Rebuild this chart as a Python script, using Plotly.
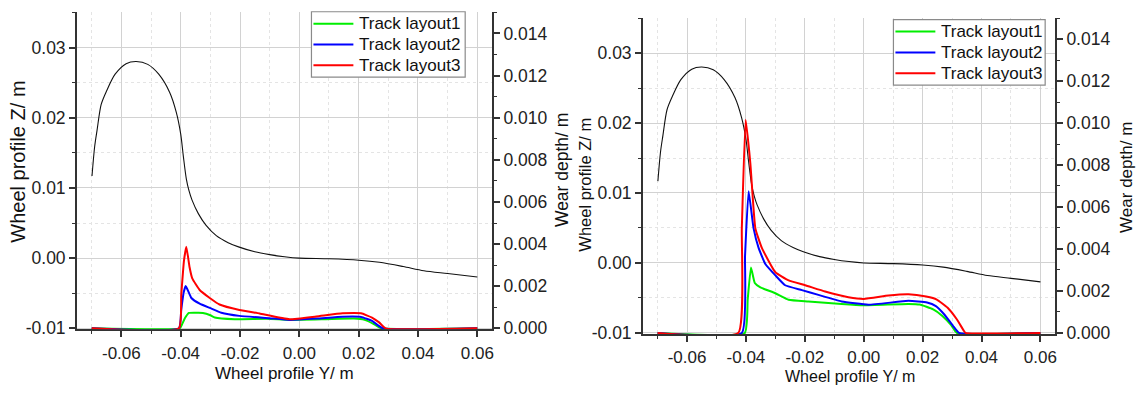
import plotly.graph_objects as go

# ---- wheel profile (same in both panels) ----
profile_y = [-0.0699, -0.0690, -0.0682, -0.0668, -0.0650, -0.0621, -0.0584, -0.0550,
             -0.0511, -0.0474, -0.0437, -0.0415, -0.0400, -0.0391, -0.0381, -0.0372,
             -0.0362, -0.0340, -0.0315, -0.0280, -0.0240, -0.0205, -0.0150, -0.0100,
             -0.0050, 0.0000, 0.0100, 0.0200, 0.0270, 0.0350, 0.0420, 0.0500, 0.0600]
profile_z = [0.0117, 0.0159, 0.0182, 0.0219, 0.0238, 0.0262, 0.0277, 0.0280,
             0.0276, 0.0262, 0.0236, 0.0208, 0.0177, 0.0145, 0.0113, 0.0096,
             0.0083, 0.0063, 0.0047, 0.0032, 0.0022, 0.0016, 0.0009, 0.0005,
             0.0002, 0.0000, -0.0001, -0.0003, -0.0006, -0.0012, -0.0018, -0.0022, -0.0027]

# ---- wear depth, left panel ----
left_l1_y = [-0.0700, -0.0403, -0.0395, -0.0385, -0.0372, -0.0340, -0.0325, -0.0300,
             -0.0285, -0.0218, -0.0108, -0.0033, 0.0087, 0.0184, 0.0220, 0.0251, 0.0275, 0.0600]
left_l1_w = [0.0, 0.0, 0.0002, 0.0005, 0.00073, 0.00074, 0.00073, 0.00062,
             0.00051, 0.00043, 0.00045, 0.00040, 0.00043, 0.00046, 0.00040, 0.00020, 0.0, 0.0]

left_l2_y = [-0.0700, -0.0406, -0.0398, -0.0390, -0.0383, -0.0364, -0.0336, -0.0302,
             -0.0263, -0.0202, -0.0101, -0.0033, 0.0057, 0.0146, 0.0208, 0.0245, 0.0281, 0.0600]
left_l2_w = [0.0, 0.0, 0.0009, 0.0017, 0.00201, 0.00144, 0.00117, 0.00097,
             0.00074, 0.00059, 0.00048, 0.00040, 0.00046, 0.00055, 0.00054, 0.00035, 0.0, 0.0]

left_l3_y = [-0.0700, -0.0406, -0.0398, -0.0389, -0.0381, -0.0370, -0.0361, -0.0336,
             -0.0302, -0.0269, -0.0202, -0.0134, -0.0033, 0.0057, 0.0146, 0.0208,
             0.0245, 0.0269, 0.0291, 0.0600]
left_l3_w = [0.0, 0.0, 0.0016, 0.0032, 0.00387, 0.0029, 0.00237, 0.00182,
             0.00144, 0.00113, 0.00087, 0.00070, 0.00043, 0.00056, 0.00071, 0.00071,
             0.00051, 0.00028, 0.0, 0.0]

# ---- wear depth, right panel ----
right_l1_y = [-0.0700, -0.0404, -0.0394, -0.0383, -0.0370, -0.0351, -0.0300, -0.0255,
              -0.0188, -0.0075, 0.0000, 0.0152, 0.0190, 0.0236, 0.0267, 0.0297, 0.0316, 0.0600]
right_l1_w = [0.0, 0.0, 0.0016, 0.00312, 0.00238, 0.00217, 0.00189, 0.00158,
              0.00150, 0.00138, 0.00132, 0.00138, 0.00135, 0.00112, 0.00081, 0.00037, 0.0, 0.0]

right_l2_y = [-0.0700, -0.0414, -0.0403, -0.0391, -0.0374, -0.0357, -0.0334, -0.0300,
              -0.0267, -0.0210, -0.0154, -0.0075, 0.0016, 0.0152, 0.0215, 0.0245,
              0.0273, 0.0303, 0.0324, 0.0600]
right_l2_w = [0.0, 0.0, 0.0037, 0.00675, 0.00498, 0.00405, 0.00328, 0.00274,
              0.00227, 0.00204, 0.00181, 0.00150, 0.00134, 0.00153, 0.00145, 0.00128,
              0.00089, 0.00034, 0.0, 0.0]

right_l3_y = [-0.0700, -0.0426, -0.0414, -0.0401, -0.0385, -0.0368, -0.0346, -0.0300,
              -0.0255, -0.0199, -0.0131, -0.0052, 0.0000, 0.0084, 0.0152, 0.0212,
              0.0248, 0.0285, 0.0316, 0.0340, 0.0346, 0.0600]
right_l3_w = [0.0, 0.0, 0.0050, 0.01015, 0.00807, 0.00498, 0.00405, 0.00289,
              0.00250, 0.00227, 0.00197, 0.00170, 0.00162, 0.00178, 0.00184, 0.00173,
              0.00159, 0.00120, 0.00065, 0.00010, 0.0, 0.0]

series_names = ["Track layout1", "Track layout2", "Track layout3"]
series_colors = ["#00ee00", "#0000ff", "#ff0000"]

# ---- tick labels ----
x_tick_vals = [-0.06, -0.04, -0.02, 0.0, 0.02, 0.04, 0.06]
x_tick_text = ["-0.06", "-0.04", "-0.02", "0.00", "0.02", "0.04", "0.06"]
z_tick_vals = [-0.01, 0.0, 0.01, 0.02, 0.03]
z_tick_text = ["-0.01", "0.00", "0.01", "0.02", "0.03"]
w_tick_vals = [0.0, 0.002, 0.004, 0.006, 0.008, 0.010, 0.012, 0.014]
w_tick_text = ["0.000", "0.002", "0.004", "0.006", "0.008", "0.010", "0.012", "0.014"]

FONT = "Liberation Sans, Arial, sans-serif"
W, H = 1140, 397
AX = "#333333"

# a hair of headroom under zero so the zero-wear lines sit fully on the axis
W_RANGE = [-0.00005, 0.015]
Z_RANGE = [-0.01015, 0.035]

fig = go.Figure()

panels = [
    dict(x="x", y="y", yw="y2",
         data=[(left_l1_y, left_l1_w), (left_l2_y, left_l2_w), (left_l3_y, left_l3_w)]),
    dict(x="x2", y="y3", yw="y4",
         data=[(right_l1_y, right_l1_w), (right_l2_y, right_l2_w), (right_l3_y, right_l3_w)]),
]

for p in panels:
    fig.add_trace(go.Scatter(x=profile_y, y=profile_z, mode="lines",
                             line=dict(color="#111111", width=1.1, shape="spline", smoothing=0.8),
                             xaxis=p["x"], yaxis=p["y"], showlegend=False, hoverinfo="skip"))
    for (yy, ww), name, col in zip(p["data"], series_names, series_colors):
        fig.add_trace(go.Scatter(x=yy, y=ww, mode="lines", name=name, showlegend=False,
                                 line=dict(color=col, width=2, shape="spline", smoothing=0.4),
                                 xaxis=p["x"], yaxis=p["yw"]))


def xaxis_style(domain, anchor):
    return dict(domain=domain, anchor=anchor, range=[-0.075, 0.065], layer="below traces",
                tickmode="array", tickvals=x_tick_vals, ticktext=x_tick_text,
                ticks="outside", ticklen=6, tickwidth=1.5, tickcolor=AX, ticklabelstandoff=1,
                showline=True, linecolor=AX, linewidth=1.5, mirror=False,
                showgrid=True, gridcolor="#d2d2d2", gridwidth=1, zeroline=False,
                tickfont=dict(family=FONT, size=17, color="#222222"),
                minor=dict(tickmode="linear", tick0=0, dtick=0.01, ticks="outside", ticklen=3,
                           tickwidth=1.2, tickcolor=AX, showgrid=True,
                           gridcolor="#e4e4e4", griddash="dot", gridwidth=1))


def zaxis_style(domain, anchor):
    return dict(domain=domain, anchor=anchor, range=Z_RANGE, layer="below traces",
                tickmode="array", tickvals=z_tick_vals, ticktext=z_tick_text,
                ticks="outside", ticklen=6, tickwidth=1.5, tickcolor=AX,
                showline=True, linecolor=AX, linewidth=1.5,
                showgrid=True, gridcolor="#d2d2d2", gridwidth=1, zeroline=False,
                tickfont=dict(family=FONT, size=17.5, color="#222222"),
                minor=dict(tickmode="linear", tick0=0, dtick=0.005, ticks="outside", ticklen=3,
                           tickwidth=1.2, tickcolor=AX, showgrid=True,
                           gridcolor="#e4e4e4", griddash="dot", gridwidth=1))


def waxis_style(overlay, anchor):
    return dict(overlaying=overlay, anchor=anchor, side="right", range=W_RANGE,
                layer="below traces",
                tickmode="array", tickvals=w_tick_vals, ticktext=w_tick_text,
                ticks="outside", ticklen=6, tickwidth=1.5, tickcolor=AX,
                showline=True, linecolor=AX, linewidth=1.5,
                showgrid=False, zeroline=False,
                tickfont=dict(family=FONT, size=17.5, color="#222222"),
                minor=dict(tickmode="linear", tick0=0, dtick=0.001, ticks="outside", ticklen=3,
                           tickwidth=1.2, tickcolor=AX, showgrid=False))


fig.update_layout(
    width=W, height=H, autosize=False,
    margin=dict(l=0, r=0, t=0, b=0),
    paper_bgcolor="white", plot_bgcolor="white",
    font=dict(family=FONT, color="#222222"),
    xaxis=xaxis_style([77 / W, 493 / W], "y"),
    yaxis=zaxis_style([(H - 337) / H, (H - 12.7) / H], "x"),
    yaxis2=waxis_style("y", "x"),
    xaxis2=xaxis_style([644 / W, 1057 / W], "y3"),
    yaxis3=zaxis_style([(H - 341.7) / H, (H - 18.5) / H], "x2"),
    yaxis4=waxis_style("y3", "x2"),
    showlegend=False,
)


def px_x(v):
    return v / W


def px_y(v):
    return 1 - v / H


# boxed legends (left box, right box), drawn in paper pixels
legend_boxes = [(312, 466, 12, 79), (895, 1047, 20, 87)]
for bx0, bx1, by0, by1 in legend_boxes:
    fig.add_shape(type="rect", xref="paper", yref="paper",
                  x0=px_x(bx0), x1=px_x(bx1), y0=px_y(by1), y1=px_y(by0),
                  fillcolor="white", line=dict(color="#8a8a8a", width=1.2), layer="above")
    row_h = (by1 - by0) / 3.15
    for i, (name, col) in enumerate(zip(series_names, series_colors)):
        ry = by0 + row_h * (i + 0.58)
        fig.add_shape(type="line", xref="paper", yref="paper",
                      x0=px_x(bx0 + 2), x1=px_x(bx0 + 42), y0=px_y(ry), y1=px_y(ry),
                      line=dict(color=col, width=2), layer="above")
        fig.add_annotation(text=name, xref="paper", yref="paper",
                           x=px_x(bx0 + 46), y=px_y(ry), xanchor="left", yanchor="middle",
                           showarrow=False,
                           font=dict(family=FONT, size=17, color="#111111"))

# axis titles
titles = [
    ("Wheel profile Y/ m", 285, 382, 0, 17),
    ("Wheel profile Z/ m", 18.5, 165, -90, 20),
    ("Wear depth/ m", 563, 174, -90, 17.5),
    ("Wheel profile Y/ m", 851, 385, 0, 16),
    ("Wheel profile Z/ m", 586, 189, -90, 16.5),
    ("Wear depth/ m", 1129, 182, -90, 17),
]
for text, px, py, ang, size in titles:
    fig.add_annotation(text=text, xref="paper", yref="paper", x=px_x(px), y=px_y(py),
                       xanchor="center", yanchor="middle", textangle=ang, showarrow=False,
                       borderpad=0,
                       font=dict(family=FONT, size=size, color="#111111"))

fig.write_html("out.html")
